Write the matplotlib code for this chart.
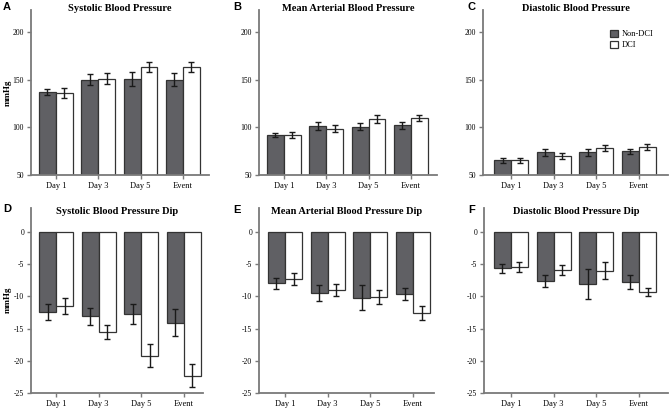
"""
Blood pressure by day, Non-DCI vs DCI (six panels).
"""

import matplotlib
matplotlib.use('Agg')
import matplotlib.pyplot as plt
import numpy as np

plt.rcParams['font.family'] = ['Liberation Serif', 'DejaVu Serif']
plt.rcParams['axes.unicode_minus'] = False

COLORS = {
    'nondci': '#606064',
    'dci': '#ffffff',
    'edge': '#333333',
    'spine': '#7a7a7a',
}

days = ['Day 1', 'Day 3', 'Day 5', 'Event']

# top row: absolute values (mean, error)
sbp_non = [137.4, 150.0, 150.7, 150.0]
sbp_non_err = [3.1, 6.0, 7.3, 6.5]
sbp_dci = [136.0, 150.7, 163.0, 163.3]
sbp_dci_err = [4.9, 5.8, 5.2, 4.9]

map_non = [91.6, 101.4, 100.7, 102.0]
map_non_err = [2.1, 4.4, 4.0, 3.5]
map_dci = [91.6, 98.6, 108.4, 109.4]
map_dci_err = [3.1, 3.8, 4.2, 3.3]

dbp_non = [65.3, 73.6, 73.6, 74.7]
dbp_non_err = [2.3, 4.0, 3.8, 2.4]
dbp_dci = [65.3, 69.8, 78.1, 79.2]
dbp_dci_err = [2.4, 2.8, 3.3, 2.8]

# bottom row: dips
sbp_dip_non = [-12.4, -13.1, -12.7, -14.1]
sbp_dip_non_err = [1.27, 1.35, 1.56, 2.1]
sbp_dip_dci = [-11.5, -15.5, -19.2, -22.3]
sbp_dip_dci_err = [1.3, 1.07, 1.8, 1.75]

map_dip_non = [-8.0, -9.55, -10.2, -9.65]
map_dip_non_err = [0.83, 1.25, 1.95, 0.93]
map_dip_dci = [-7.3, -9.0, -10.05, -12.6]
map_dip_dci_err = [0.88, 0.88, 1.1, 1.07]

dbp_dip_non = [-5.65, -7.67, -8.08, -7.77]
dbp_dip_non_err = [0.67, 0.96, 2.28, 1.06]
dbp_dip_dci = [-5.5, -5.96, -6.0, -9.33]
dbp_dip_dci_err = [0.78, 0.8, 1.35, 0.65]

W, H = 669, 413
fig = plt.figure(figsize=(W / 100, H / 100), dpi=100, facecolor='white')


def make_axes(left, right, top, bottom):
    return fig.add_axes([left / W, 1 - bottom / H, (right - left) / W, (bottom - top) / H])


def draw_panel(ax, title, title_y, non, non_err, dci, dci_err, ylim, yticks, xlim,
               legend=False):
    x = np.arange(len(days))
    width = 0.4
    ax.bar(x - width / 2, non, width, color=COLORS['nondci'], edgecolor=COLORS['edge'],
           linewidth=0.9, label='Non-DCI', zorder=2)
    ax.bar(x + width / 2, dci, width, color=COLORS['dci'], edgecolor=COLORS['edge'],
           linewidth=0.9, label='DCI', zorder=2)
    ax.errorbar(x - width / 2, non, yerr=non_err, fmt='none', ecolor='#1a1a1a',
                elinewidth=1.0, capsize=2, capthick=1.0, zorder=3)
    ax.errorbar(x + width / 2, dci, yerr=dci_err, fmt='none', ecolor='#1a1a1a',
                elinewidth=1.0, capsize=2, capthick=1.0, zorder=3)

    ax.set_xlim(*xlim)
    ax.set_ylim(*ylim)
    ax.set_xticks(x)
    ax.set_xticklabels(days, fontsize=6)
    ax.set_yticks(yticks)
    ax.set_yticklabels([str(t) for t in yticks], fontsize=5.5)
    ax.tick_params(axis='both', length=3, width=1.0, color=COLORS['spine'], pad=2)

    ax.spines['top'].set_visible(False)
    ax.spines['right'].set_visible(False)
    for s in ('left', 'bottom'):
        ax.spines[s].set_color(COLORS['spine'])
        ax.spines[s].set_linewidth(1.3)

    # title sits inside the axes' top band, as in the reference
    pos = ax.get_position()
    fig.text(pos.x0 + pos.width / 2, 1 - title_y / H, title, fontsize=7.5,
             fontweight='bold', ha='center', va='center')
    if legend:
        ax.legend(loc='upper right', bbox_to_anchor=(0.94, 0.9), fontsize=6,
                  frameon=False, handlelength=1.0, handleheight=1.0,
                  handletextpad=0.4, labelspacing=0.3, borderaxespad=0)
    return ax


top_ylim = (50, 223)
top_ticks = [50, 100, 150, 200]
bot_ylim = (-25, 3.7)
bot_ticks = [0, -5, -10, -15, -20, -25]

axA = make_axes(31, 209, 10, 175)
draw_panel(axA, 'Systolic Blood Pressure', 8.5, sbp_non, sbp_non_err, sbp_dci, sbp_dci_err,
           top_ylim, top_ticks, (-0.59, 3.62))
axB = make_axes(259, 437, 10, 175)
draw_panel(axB, 'Mean Arterial Blood Pressure', 8.5, map_non, map_non_err, map_dci,
           map_dci_err, top_ylim, top_ticks, (-0.59, 3.62))
axC = make_axes(483, 668, 10, 175)
draw_panel(axC, 'Diastolic Blood Pressure', 8.5, dbp_non, dbp_non_err, dbp_dci, dbp_dci_err,
           top_ylim, top_ticks, (-0.66, 3.69), legend=True)

axD = make_axes(31, 203, 208, 393)
draw_panel(axD, 'Systolic Blood Pressure Dip', 212, sbp_dip_non, sbp_dip_non_err,
           sbp_dip_dci, sbp_dip_dci_err, bot_ylim, bot_ticks, (-0.59, 3.45))
axE = make_axes(259, 434, 208, 393)
draw_panel(axE, 'Mean Arterial Blood Pressure Dip', 212, map_dip_non, map_dip_non_err,
           map_dip_dci, map_dip_dci_err, bot_ylim, bot_ticks, (-0.61, 3.49))
axF = make_axes(484, 668, 208, 393)
draw_panel(axF, 'Diastolic Blood Pressure Dip', 212, dbp_dip_non, dbp_dip_non_err,
           dbp_dip_dci, dbp_dip_dci_err, bot_ylim, bot_ticks, (-0.63, 3.68))

# y labels (only first column)
for yc in (93, 300):
    fig.text(8 / W, 1 - yc / H, 'mmHg', fontsize=6.5, fontweight='bold',
             rotation=90, ha='center', va='center')

# panel letters
for letter, px, py in [('A', 3, 10), ('B', 233, 10), ('C', 467, 10),
                       ('D', 3, 212), ('E', 233, 213), ('F', 468, 213)]:
    fig.text(px / W, 1 - py / H, letter, fontsize=8, fontweight='bold',
             family=['Liberation Sans', 'DejaVu Sans'], ha='left', va='baseline')

fig.savefig('out.png', dpi=100, facecolor='white')
plt.close()
